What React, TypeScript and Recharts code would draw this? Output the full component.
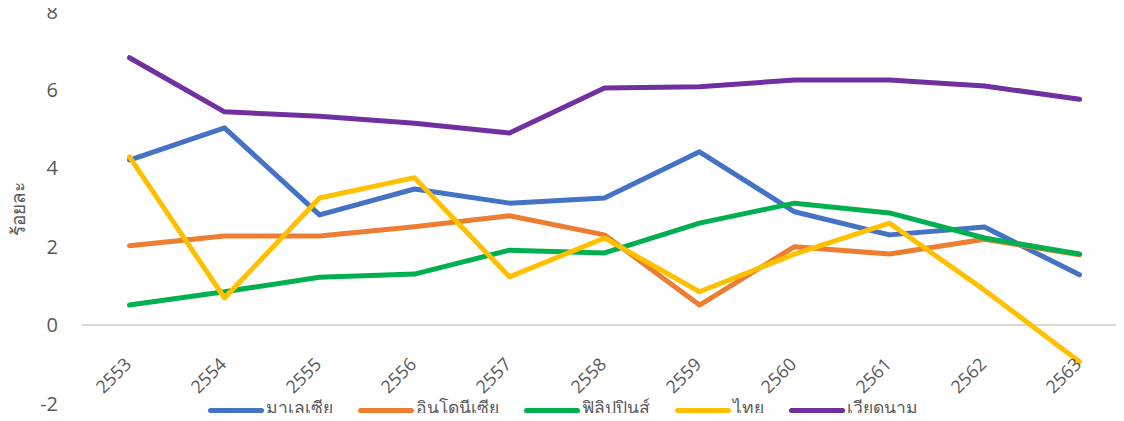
import React from 'react';
import { LineChart, Line, XAxis, YAxis, ReferenceLine, Legend } from 'recharts';

const years = ['2553', '2554', '2555', '2556', '2557', '2558', '2559', '2560', '2561', '2562', '2563'];
const malaysia = [4.21, 5.03, 2.81, 3.47, 3.11, 3.24, 4.42, 2.89, 2.3, 2.5, 1.28];
const indonesia = [2.02, 2.27, 2.27, 2.51, 2.79, 2.3, 0.51, 2.0, 1.81, 2.19, 1.79];
const philippines = [0.51, 0.85, 1.22, 1.3, 1.91, 1.84, 2.6, 3.11, 2.86, 2.22, 1.81];
const thailand = [4.29, 0.69, 3.24, 3.76, 1.23, 2.22, 0.85, 1.81, 2.6, 0.89, -0.94];
const vietnam = [6.82, 5.44, 5.33, 5.15, 4.9, 6.05, 6.08, 6.25, 6.25, 6.1, 5.76];
const yTicks = [-2, 0, 2, 4, 6, 8];

const seriesNames = ['มาเลเซีย', 'อินโดนีเซีย', 'ฟิลิปปินส์', 'ไทย', 'เวียดนาม'];
const seriesKeys = ['my', 'id', 'ph', 'th', 'vn'];
const seriesColors = ['#4472C4', '#ED7D31', '#00B050', '#FFC000', '#7030A0'];
const seriesValues = [malaysia, indonesia, philippines, thailand, vietnam];

const data = years.map((y, i) => {
  const row: Record<string, any> = { year: y };
  seriesKeys.forEach((k, s) => {
    row[k] = seriesValues[s][i];
  });
  return row;
});

const FONT = '"Open Sans", "Noto Sans", sans-serif';
const TEXT = '#595959';

const XTick = (props: any) => {
  const { x, y, payload } = props;
  const ax = x + 3;
  const ay = y - 38;
  return (
    <text
      x={ax}
      y={ay}
      transform={`rotate(-45 ${ax} ${ay})`}
      textAnchor="end"
      fontSize={18}
      fontFamily={FONT}
      fill={TEXT}
    >
      {payload.value}
    </text>
  );
};

const LegendContent = () => (
  <div
    style={{
      display: 'flex',
      alignItems: 'center',
      paddingLeft: 208,
      fontFamily: FONT,
      fontSize: 17.5,
      color: TEXT,
      lineHeight: '20px',
      height: 20,
    }}
  >
    {seriesNames.map((n, i) => (
      <div key={n} style={{ display: 'flex', alignItems: 'center', marginRight: 25, height: 20 }}>
        <div style={{ width: 56, height: 5, borderRadius: 3, background: seriesColors[i], marginRight: 2 }} />
        <span style={{ position: 'relative', top: -3 }}>{n}</span>
      </div>
    ))}
  </div>
);

export default function App() {
  return (
    <div style={{ margin: -8, width: 1124, height: 421, overflow: 'hidden', position: 'relative', background: '#fff' }}>
      <LineChart
        width={1128}
        height={421}
        data={data}
        margin={{ top: 11.5, right: 1, bottom: 16.6, left: 0 }}
      >
        <XAxis
          dataKey="year"
          height={1}
          axisLine={false}
          tickLine={false}
          tickSize={0}
          tickMargin={0}
          interval={0}
          padding={{ left: 47.5, right: 47.5 }}
          tick={<XTick />}
        />
        <YAxis
          width={82}
          domain={[-2, 8]}
          ticks={yTicks}
          axisLine={false}
          tickLine={false}
          tickSize={0}
          tickMargin={24}
          tick={{ fontSize: 20, fill: TEXT, fontFamily: FONT }}
          label={{
            content: () => (
              <text
                x={18}
                y={209}
                transform="rotate(-90 18 209)"
                textAnchor="middle"
                dominantBaseline="central"
                fontSize={19}
                fontFamily={FONT}
                fill={TEXT}
              >
                ร้อยละ
              </text>
            ),
          }}
        />
        <ReferenceLine y={0} stroke="#D9D9D9" strokeWidth={2} />
        {seriesKeys.map((k, i) => (
          <Line
            key={k}
            type="linear"
            dataKey={k}
            name={seriesNames[i]}
            stroke={seriesColors[i]}
            strokeWidth={5}
            strokeLinecap="round"
            strokeLinejoin="round"
            dot={false}
            activeDot={false}
            isAnimationActive={false}
          />
        ))}
        <Legend
          layout="horizontal"
          verticalAlign="middle"
          align="center"
          content={<LegendContent />}
          wrapperStyle={{ top: 400, left: 0, width: 1124, height: 20 }}
        />
      </LineChart>
    </div>
  );
}
